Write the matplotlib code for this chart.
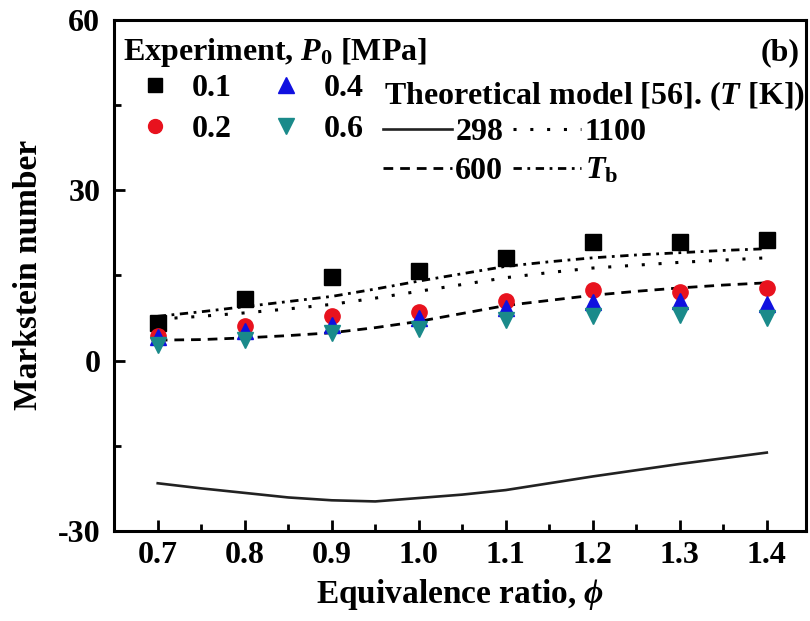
import matplotlib
matplotlib.use("Agg")
import matplotlib.pyplot as plt
from matplotlib.lines import Line2D
from matplotlib.ticker import MultipleLocator

plt.rcParams['font.family'] = ['Liberation Serif', 'DejaVu Serif']
plt.rcParams['font.weight'] = 'bold'
plt.rcParams['mathtext.fontset'] = 'custom'
plt.rcParams['mathtext.rm'] = 'Liberation Serif:bold'
plt.rcParams['mathtext.it'] = 'Liberation Serif:italic:bold'
plt.rcParams['mathtext.bf'] = 'Liberation Serif:bold'

# Experimental data
phi = [0.7, 0.8, 0.9, 1.0, 1.1, 1.2, 1.3, 1.4]
ma_01 = [6.6, 10.8, 14.8, 15.8, 18.1, 20.9, 20.8, 21.2]
ma_02 = [4.4, 6.1, 7.8, 8.5, 10.5, 12.5, 12.0, 12.8]
ma_04 = [4.1, 5.2, 6.3, 7.5, 9.3, 10.3, 10.5, 9.9]
ma_06 = [2.8, 3.7, 4.8, 5.6, 7.2, 7.8, 8.1, 7.5]

# Theoretical model
phi_t = [0.7, 0.75, 0.8, 0.85, 0.9, 0.95, 1.0, 1.05, 1.1, 1.15, 1.2, 1.25, 1.3, 1.35, 1.4]
th_298 = [-21.6, -22.5, -23.3, -24.1, -24.6, -24.8, -24.2, -23.6, -22.8, -21.6, -20.4, -19.3, -18.2, -17.2, -16.2]
th_600 = [3.6, 3.7, 4.0, 4.4, 4.9, 5.8, 6.9, 8.3, 9.7, 10.6, 11.5, 12.2, 12.8, 13.3, 13.7]
th_1100 = [7.3, 7.8, 8.4, 9.1, 9.9, 11.0, 12.2, 13.4, 14.6, 15.5, 16.3, 16.8, 17.3, 17.7, 18.1]
th_Tb = [7.8, 8.6, 9.5, 10.4, 11.3, 12.6, 14.0, 15.3, 16.6, 17.4, 18.1, 18.6, 19.0, 19.4, 19.7]

x_ticks = [0.7, 0.8, 0.9, 1.0, 1.1, 1.2, 1.3, 1.4]
x_ticklabels = ['0.7', '0.8', '0.9', '1.0', '1.1', '1.2', '1.3', '1.4']
y_ticks = [-30, 0, 30, 60]
y_ticklabels = ['-30', '0', '30', '60']

exp_labels = ['0.1', '0.2', '0.4', '0.6']
th_labels = ['298', '600', '1100', r'$T_\mathrm{b}$']

c_red = '#e8121e'
c_blue = '#1010e0'
c_teal = '#1a8a8a'
sty_298 = dict(ls='-', color='#222222', lw=1.9)
sty_600 = dict(ls='--', color='black', lw=2.0, dashes=(3.5, 2.5))
sty_1100 = dict(ls=':', color='black', lw=2.2, dashes=(1, 4.5))
sty_Tb = dict(ls='-.', color='black', lw=2.0, dashes=(3, 2, 1, 2))

fig = plt.figure(figsize=(8.1, 6.21), dpi=100)
ax = fig.add_axes([0.141, 0.145, 0.854, 0.823])

ax.plot(phi_t, th_298, **sty_298)
ax.plot(phi_t, th_600, **sty_600)
ax.plot(phi_t, th_1100, **sty_1100)
ax.plot(phi_t, th_Tb, **sty_Tb)

ms = 11
ax.plot(phi, ma_01, 's', color='black', ms=ms, ls='none')
ax.plot(phi, ma_02, 'o', color=c_red, ms=ms, ls='none')
ax.plot(phi, ma_04, '^', color=c_blue, ms=ms + 1, ls='none')
ax.plot(phi, ma_06, 'v', color=c_teal, ms=ms + 1, ls='none')

ax.set_xlim(0.65, 1.445)
ax.set_ylim(-30, 60)
ax.set_xticks(x_ticks, x_ticklabels)
ax.set_yticks(y_ticks, y_ticklabels)
ax.xaxis.set_minor_locator(MultipleLocator(0.05))
ax.yaxis.set_minor_locator(MultipleLocator(15))
ax.tick_params(which='both', direction='in', width=2, top=False, right=False)
ax.tick_params(which='major', length=8, labelsize=23, pad=7)
ax.tick_params(axis='y', which='major', pad=10)
ax.tick_params(which='minor', length=5)
for s in ax.spines.values():
    s.set_linewidth(2.2)

ax.set_xlabel(r'Equivalence ratio, $\phi$', fontsize=24, fontweight='bold', labelpad=5)
ax.set_ylabel('Markstein number', fontsize=24, fontweight='bold', labelpad=10)

# Legend 1: experiments
h1 = [Line2D([], [], marker='s', color='black', ls='none', ms=9.5),
      Line2D([], [], marker='o', color=c_red, ls='none', ms=10),
      Line2D([], [], marker='^', color=c_blue, ls='none', ms=11),
      Line2D([], [], marker='v', color=c_teal, ls='none', ms=11)]
leg1 = ax.legend(h1, exp_labels, ncol=2, loc='center left',
                 bbox_to_anchor=(0.036, 0.826), frameon=False, fontsize=23,
                 handlelength=1.0, handletextpad=0.66, columnspacing=1.2,
                 labelspacing=0.36, borderpad=0, borderaxespad=0)
ax.add_artist(leg1)
ax.text(0.013, 0.922, r'Experiment, $P_0$ [MPa]', transform=ax.transAxes,
        fontsize=23, fontweight='bold', va='baseline', ha='left')
ax.text(0.991, 0.922, '(b)', transform=ax.transAxes, fontsize=23,
        fontweight='bold', va='baseline', ha='right')

# Legend 2: theoretical model
h2 = [Line2D([], [], **sty_298), Line2D([], [], **sty_600),
      Line2D([], [], **sty_1100), Line2D([], [], **sty_Tb)]
leg2 = ax.legend(h2, th_labels, ncol=2, loc='center left',
                 bbox_to_anchor=(0.389, 0.742), frameon=False, fontsize=23,
                 handlelength=2.15, handletextpad=0.1, columnspacing=0.3,
                 labelspacing=0.3, borderpad=0, borderaxespad=0)
ax.text(0.998, 0.834, r'Theoretical model [56]. ($T$ [K])', transform=ax.transAxes,
        fontsize=23, fontweight='bold', va='baseline', ha='right')

fig.savefig('out.png', dpi=100)
